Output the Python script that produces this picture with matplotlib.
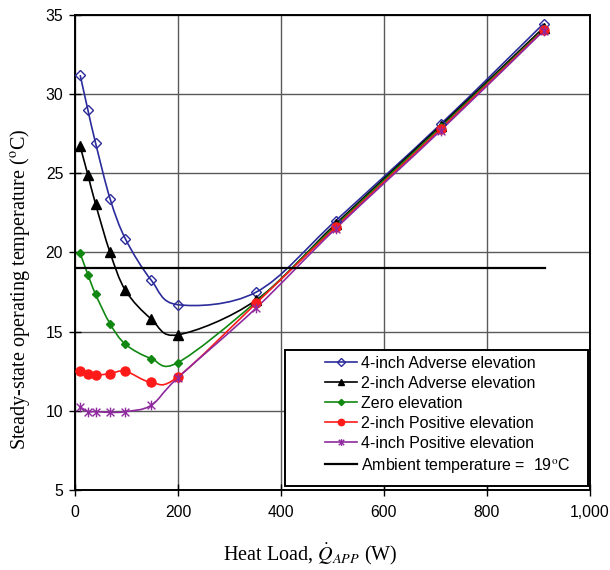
import numpy as np
import matplotlib
matplotlib.use("Agg")
import matplotlib.pyplot as plt
from matplotlib.path import Path
from matplotlib.patches import PathPatch, Rectangle
from matplotlib.ticker import FuncFormatter

plt.rcParams['font.family'] = ['Liberation Sans', 'DejaVu Sans']
plt.rcParams['mathtext.fontset'] = 'stix'

heat_load = [10, 25, 40, 68, 98, 148, 200, 352, 506, 710, 910]
adverse4 = [31.2, 29.0, 26.9, 23.4, 20.85, 18.25, 16.7, 17.5, 22.0, 28.1, 34.45]
adverse2 = [26.7, 24.9, 23.05, 20.0, 17.6, 15.8, 14.8, 17.0, 21.8, 28.0, 34.2]
zero_elev = [19.95, 18.6, 17.35, 15.5, 14.2, 13.3, 13.05, 16.9, 21.7, 27.9, 34.1]
positive2 = [12.5, 12.35, 12.25, 12.35, 12.5, 11.8, 12.15, 16.8, 21.6, 27.8, 34.05]
positive4 = [10.25, 9.95, 9.95, 9.9, 9.95, 10.35, 12.1, 16.5, 21.5, 27.7, 34.0]
ambient_x = [0, 912]
ambient_y = [19, 19]

labels = ["4-inch Adverse elevation", "2-inch Adverse elevation", "Zero elevation",
          "2-inch Positive elevation", "4-inch Positive elevation"]
colors = ["#2b2b9c", "#000000", "#118811", "#ff1a1a", "#8e2a9e"]

# Excel-like star marker (x with vertical bar)
star_path = Path([(-1, -1), (1, 1), (-1, 1), (1, -1), (0, -1.25), (0, 1.25)],
                 [Path.MOVETO, Path.LINETO, Path.MOVETO, Path.LINETO, Path.MOVETO, Path.LINETO])
markers = [dict(marker='D', mfc='none', mec=colors[0], ms=5.5, mew=1.0),
           dict(marker='^', mfc='black', mec='black', ms=6.5),
           dict(marker='D', mfc=colors[2], mec=colors[2], ms=4.5),
           dict(marker='o', mfc=colors[3], mec=colors[3], ms=6.5),
           dict(marker=star_path, mfc='none', mec=colors[4], ms=7, mew=1.0)]


def smooth_path(x, y):
    pts = np.column_stack([x, y]).astype(float)
    n = len(pts)
    verts = [pts[0]]
    codes = [Path.MOVETO]
    for i in range(n - 1):
        p0 = pts[i - 1] if i > 0 else pts[i]
        p1 = pts[i]
        p2 = pts[i + 1]
        p3 = pts[i + 2] if i + 2 < n else pts[i + 1]
        c1 = p1 + (p2 - p0) / 6.0
        c2 = p2 - (p3 - p1) / 6.0
        verts += [c1, c2, p2]
        codes += [Path.CURVE4] * 3
    return Path(verts, codes)


fig = plt.figure(figsize=(6.1, 5.7), dpi=100)
ax = fig.add_axes([0.123, 0.1404, 0.844, 0.8333])

series = [adverse4, adverse2, zero_elev, positive2, positive4]
for ys, lab, col, mk in zip(series, labels, colors, markers):
    patch = PathPatch(smooth_path(heat_load, ys), fill=False, edgecolor=col, lw=1.2, zorder=3)
    ax.add_patch(patch)
    ax.plot(heat_load, ys, linestyle='none', zorder=4, **mk)
    ax.plot([], [], color=col, lw=1.2, label=lab,
            **{k: v for k, v in mk.items() if k != 'ms'}, ms=mk['ms'] * 0.7)

ax.plot(ambient_x, ambient_y, color='black', lw=1.6,
        label=r"Ambient temperature =  19$^{\mathrm{o}}$C", zorder=3)

ax.set_xlim(0, 1000)
ax.set_ylim(5, 35)
ax.set_xticks(np.arange(0, 1001, 200))
ax.set_yticks(np.arange(5, 36, 5))
ax.xaxis.set_major_formatter(FuncFormatter(lambda v, p: f"{int(v):,}"))
ax.grid(True, color='#5a5a5a', lw=1.0, zorder=0)
ax.set_axisbelow(True)
for s in ax.spines.values():
    s.set_linewidth(1.4)
ax.tick_params(direction='inout', length=9, width=1.0, labelsize=11.3, colors='black')
ax.tick_params(axis='x', pad=6)
ax.tick_params(axis='y', pad=4)

ax.set_xlabel(r"Heat Load, $\dot{Q}_{APP}$ (W)", fontfamily='Liberation Serif', fontsize=14.5)
ax.xaxis.set_label_coords(0.456, -0.109)
ax.set_ylabel(r"Steady-state operating temperature ($^{\mathrm{o}}$C)",
              fontfamily='Liberation Serif', fontsize=14.5)
ax.yaxis.set_label_coords(-0.083, 0.423)

# legend box
box = Rectangle((0.408, 0.0084), 0.588, 0.2866, transform=ax.transAxes,
                facecolor='white', edgecolor='black', lw=1.4, zorder=9)
ax.add_patch(box)
leg = ax.legend(loc='upper left', bbox_to_anchor=(0.485, 0.282), fontsize=11.5,
                frameon=False, handlelength=2.0, borderpad=0.0, labelspacing=0.31,
                borderaxespad=0.0, handletextpad=0.25)
leg.set_zorder(10)

fig.savefig("out.png", dpi=100)
